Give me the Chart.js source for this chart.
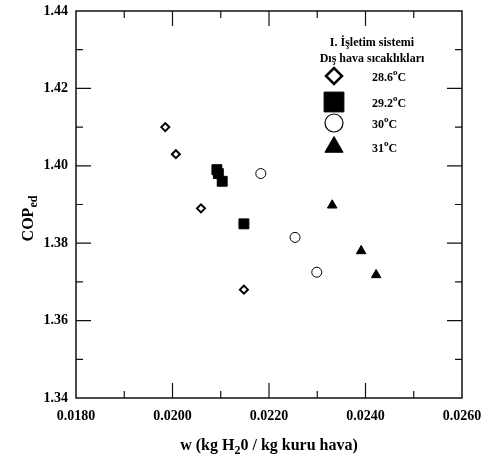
<!DOCTYPE html>
<html>
<head>
<meta charset="utf-8">
<script src="https://cdn.jsdelivr.net/npm/chart.js@4/dist/chart.umd.min.js"></script>
<style>
html, body { margin: 0; padding: 0; background: #fff; }
</style>
</head>
<body>
<canvas id="chart" width="481" height="459"></canvas>
<script>
const FONT = '"Liberation Serif", "Times New Roman", serif';

// data
const legendTitle = ["I. İşletim sistemi", "Dış hava sıcaklıkları"];
const tempLabels = ["28.6", "29.2", "30", "31"];

const w286 = [0.01985, 0.02007, 0.02059, 0.02148];
const cop286 = [1.410, 1.403, 1.389, 1.368];

const w292 = [0.02092, 0.02095, 0.02103, 0.02148];
const cop292 = [1.399, 1.398, 1.396, 1.385];

const w30 = [0.02183, 0.02254, 0.02299];
const cop30 = [1.398, 1.3815, 1.3725];

const w31 = [0.02331, 0.02391, 0.02422];
const cop31 = [1.3898, 1.378, 1.3718];

const xMin = 0.018, xMax = 0.026, xStep = 0.002;
const yMin = 1.34, yMax = 1.44, yStep = 0.02;

function pts(xs, ys) {
    return xs.map((x, i) => ({ x: x, y: ys[i] }));
}

const styles = [
    { pointStyle: "rectRot", pointRadius: 4, pointBorderWidth: 2, pointBackgroundColor: "#fff", legendRadius: 8, legendBorder: 2.5 },
    { pointStyle: "rect", pointRadius: 7, pointBorderWidth: 1, pointBackgroundColor: "#000", legendRadius: 14, legendBorder: 1 },
    { pointStyle: "circle", pointRadius: 5, pointBorderWidth: 1, pointBackgroundColor: "#fff", legendRadius: 9, legendBorder: 1.2 },
    { pointStyle: "triangle", pointRadius: 5.5, pointBorderWidth: 1, pointBackgroundColor: "#000", legendRadius: 10.5, legendBorder: 1 },
];

const allData = [pts(w286, cop286), pts(w292, cop292), pts(w30, cop30), pts(w31, cop31)];

// frame, inward ticks, axis titles and the legend box
const decor = {
    id: "decor",
    afterDraw(chart) {
        const ctx = chart.ctx;
        const a = chart.chartArea;
        const xs = chart.scales.x, ys = chart.scales.y;
        ctx.save();
        ctx.strokeStyle = "#111";
        ctx.lineWidth = 1.5;
        ctx.strokeRect(a.left, a.top, a.right - a.left, a.bottom - a.top);

        ctx.lineWidth = 1.2;
        ctx.beginPath();
        for (let i = 1; i < 8; i++) {
            const px = xs.getPixelForValue(xMin + i * 0.001);
            const len = i % 2 === 0 ? 15 : 7;
            ctx.moveTo(px, a.bottom); ctx.lineTo(px, a.bottom - len);
            ctx.moveTo(px, a.top); ctx.lineTo(px, a.top + len);
        }
        for (let i = 1; i < 10; i++) {
            const py = ys.getPixelForValue(yMin + i * 0.01);
            const len = i % 2 === 0 ? 15 : 7;
            ctx.moveTo(a.left, py); ctx.lineTo(a.left + len, py);
            ctx.moveTo(a.right, py); ctx.lineTo(a.right - len, py);
        }
        ctx.stroke();

        ctx.fillStyle = "#000";
        ctx.textBaseline = "alphabetic";

        // x title with subscript 2
        const big = "bold 16px " + FONT, small = "bold 12px " + FONT;
        const parts = [["w (kg H", big, 0], ["2", small, 4], ["0 / kg kuru hava)", big, 0]];
        let total = 0;
        parts.forEach(p => { ctx.font = p[1]; total += ctx.measureText(p[0]).width; });
        let cx = (a.left + a.right) / 2 - total / 2;
        parts.forEach(p => {
            ctx.font = p[1];
            ctx.textAlign = "left";
            ctx.fillText(p[0], cx, 450 + p[2]);
            cx += ctx.measureText(p[0]).width;
        });

        // y title COP_ed
        ctx.save();
        ctx.translate(33, (a.top + a.bottom) / 2 + 14);
        ctx.rotate(-Math.PI / 2);
        const yparts = [["COP", big, 0], ["ed", small, 4]];
        let ytot = 0;
        yparts.forEach(p => { ctx.font = p[1]; ytot += ctx.measureText(p[0]).width; });
        let yx = -ytot / 2;
        yparts.forEach(p => {
            ctx.font = p[1];
            ctx.textAlign = "left";
            ctx.fillText(p[0], yx, p[2]);
            yx += ctx.measureText(p[0]).width;
        });
        ctx.restore();

        // legend
        ctx.font = "bold 12px " + FONT;
        ctx.textAlign = "center";
        ctx.fillText(legendTitle[0], 372, 46);
        ctx.fillText(legendTitle[1], 372, 62);
        const rowY = [76, 102, 123, 147];
        chart.data.datasets.forEach((ds, i) => {
            const st = styles[i];
            ctx.fillStyle = st.pointBackgroundColor;
            ctx.strokeStyle = "#000";
            ctx.lineWidth = st.legendBorder;
            Chart.helpers.drawPoint(ctx, {
                pointStyle: st.pointStyle,
                radius: st.legendRadius,
                borderWidth: st.legendBorder,
                rotation: 0
            }, 334, rowY[i]);
            ctx.fillStyle = "#000";
            ctx.textAlign = "left";
            ctx.font = "bold 12px " + FONT;
            const tx = 372;
            ctx.fillText(tempLabels[i], tx, rowY[i] + 5);
            let w = ctx.measureText(tempLabels[i]).width;
            ctx.font = "bold 9px " + FONT;
            ctx.fillText("o", tx + w, rowY[i] - 1);
            w += ctx.measureText("o").width;
            ctx.font = "bold 12px " + FONT;
            ctx.fillText("C", tx + w, rowY[i] + 5);
        });
        ctx.restore();
    }
};

new Chart(document.getElementById("chart"), {
    type: "scatter",
    data: {
        datasets: tempLabels.map((t, i) => ({
            label: t,
            data: allData[i],
            pointStyle: styles[i].pointStyle,
            pointRadius: styles[i].pointRadius,
            pointHoverRadius: styles[i].pointRadius,
            pointBorderWidth: styles[i].pointBorderWidth,
            pointBackgroundColor: styles[i].pointBackgroundColor,
            pointBorderColor: "#000",
        })),
    },
    options: {
        responsive: false,
        animation: false,
        layout: { padding: { top: 11, right: 19, left: 0, bottom: 0 } },
        plugins: { legend: { display: false }, tooltip: { enabled: false } },
        scales: {
            x: {
                type: "linear",
                min: xMin, max: xMax,
                afterFit(s) { s.height = 61; s.paddingLeft = 0; s.paddingRight = 0; },
                grid: { display: false, drawTicks: false },
                border: { display: false },
                ticks: {
                    stepSize: xStep,
                    padding: 10,
                    color: "#000",
                    font: { family: FONT, size: 14, weight: "bold" },
                    callback: (v) => v.toFixed(4),
                },
            },
            y: {
                type: "linear",
                min: yMin, max: yMax,
                afterFit(s) { s.width = 76; s.paddingTop = 0; s.paddingBottom = 0; },
                grid: { display: false, drawTicks: false },
                border: { display: false },
                ticks: {
                    stepSize: yStep,
                    padding: 8,
                    color: "#000",
                    font: { family: FONT, size: 14, weight: "bold" },
                    callback: (v) => v.toFixed(2),
                },
            },
        },
    },
    plugins: [decor],
});
</script>
</body>
</html>
